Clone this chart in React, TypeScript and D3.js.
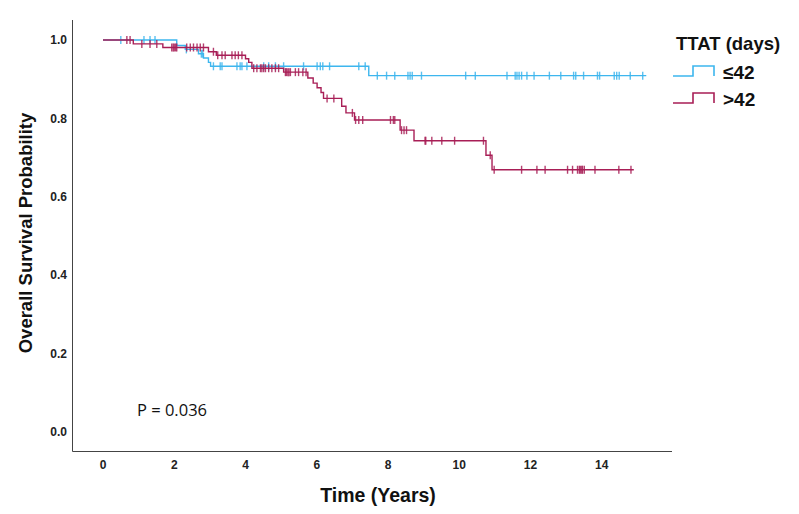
import * as d3 from 'd3';

// TTAT groups
const groupLabels = ['≤42', '>42'];
const groupColors = ['#3DB6EE', '#A81E56'];

// ≤42 days: step times (years) and survival after each step
const shortStepTimes = [0, 2.07, 2.31, 2.68, 2.82, 2.96, 3.02, 7.46];
const shortStepSurvival = [1, 0.986, 0.976, 0.965, 0.954, 0.943, 0.933, 0.909];
const shortEndTime = 15.25;
const shortCensorTimes = [
  0.5, 1.15, 1.32, 1.46, 2.34, 2.76, 2.8, 3.1, 3.29, 3.34, 3.76, 3.85, 3.9, 4.04, 4.51, 4.65,
  4.84, 5.07, 5.63, 6.01, 6.1, 6.17, 6.36, 7.18, 7.36, 7.7, 7.96, 8.19, 8.56, 8.62, 8.68, 8.94,
  10.18, 10.45, 11.34, 11.57, 11.62, 11.68, 11.75, 11.9, 12.1, 12.53, 12.85, 13.21, 13.27,
  13.49, 13.88, 13.94, 14.35, 14.42, 14.49, 14.8, 15.15
];

// >42 days
const longStepTimes = [
  0, 0.85, 1.68, 2.96, 3.18, 4.0, 4.09, 4.18, 5.07, 5.75, 5.9, 6.01, 6.12, 6.19, 6.7, 6.82,
  7.06, 8.34, 8.73, 10.75, 10.92
];
const longStepSurvival = [
  1, 0.99, 0.981, 0.97, 0.961, 0.952, 0.943, 0.928, 0.918, 0.903, 0.89, 0.878, 0.866, 0.851,
  0.831, 0.814, 0.796, 0.77, 0.743, 0.706, 0.669
];
const longEndTime = 14.9;
const longCensorTimes = [
  0.67, 0.76, 1.09, 1.32, 1.51, 1.93, 1.97, 2.0, 2.04, 2.07, 2.35, 2.45, 2.54, 2.64, 2.73,
  2.82, 3.1, 3.22, 3.34, 3.43, 3.62, 3.71, 3.8, 3.9, 4.23, 4.32, 4.42, 4.46, 4.51, 4.56, 4.65,
  4.74, 4.84, 4.93, 5.12, 5.15, 5.19, 5.22, 5.26, 5.4, 5.49, 5.61, 5.7, 6.29, 6.48, 7.0, 7.09,
  7.18, 7.29, 8.07, 8.15, 8.19, 8.38, 8.45, 8.52, 9.04, 9.06, 9.23, 9.51, 9.87, 10.68, 10.87,
  10.98, 11.75, 12.18, 12.41, 13.04, 13.18, 13.32, 13.37, 13.4, 13.44, 13.46, 13.51, 13.81,
  14.48, 14.82
];

const xTicks = [0, 2, 4, 6, 8, 10, 12, 14];
const yTicks = [0, 0.2, 0.4, 0.6, 0.8, 1.0];
const pValueText = 'P = 0.036';

const W = 799;
const H = 514;
const boldFont = '"Liberation Sans", Arial, Helvetica, sans-serif';

export default function App() {
  const x = d3.scaleLinear().domain([0, 16]).range([103, 673]);
  const y = d3.scaleLinear().domain([0, 1]).range([432, 40]);
  const axisLeft = 72.5;
  const axisBottom = 451.5;

  const groups = [
    { times: shortStepTimes, surv: shortStepSurvival, end: shortEndTime, censor: shortCensorTimes },
    { times: longStepTimes, surv: longStepSurvival, end: longEndTime, censor: longCensorTimes }
  ];

  const line = d3
    .line<[number, number]>()
    .x((d) => x(d[0]))
    .y((d) => y(d[1]))
    .curve(d3.curveStepAfter);

  const survivalAt = (times: number[], surv: number[], t: number) =>
    surv[Math.max(0, d3.bisectRight(times, t) - 1)];

  return (
    <svg width={W} height={H} style={{ position: 'absolute', left: 0, top: 0, background: '#fff' }}>
      {/* axes */}
      <line x1={axisLeft} x2={axisLeft} y1={20} y2={axisBottom} stroke="#444" strokeWidth={1} />
      <line x1={axisLeft} x2={672} y1={axisBottom} y2={axisBottom} stroke="#444" strokeWidth={1} />

      {yTicks.map((t) => (
        <text
          key={t}
          x={67}
          y={y(t)}
          dy="0.35em"
          textAnchor="end"
          fontFamily={boldFont}
          fontWeight="bold"
          fontSize={12}
          fill="#222"
        >
          {t.toFixed(1)}
        </text>
      ))}
      {xTicks.map((t) => (
        <text
          key={t}
          x={x(t)}
          y={465}
          dy="0.35em"
          textAnchor="middle"
          fontFamily={boldFont}
          fontWeight="bold"
          fontSize={12}
          fill="#222"
        >
          {t}
        </text>
      ))}

      <text
        transform={`translate(26,${233}) rotate(-90)`}
        textAnchor="middle"
        dy="0.35em"
        fontFamily={boldFont}
        fontWeight="bold"
        fontSize={18.5}
        fill="#111"
      >
        Overall Survival Probability
      </text>
      <text
        x={378}
        y={495}
        dy="0.35em"
        textAnchor="middle"
        fontFamily={boldFont}
        fontWeight="bold"
        fontSize={19.5}
        fill="#111"
      >
        Time (Years)
      </text>

      {/* curves */}
      {groups.map((g, gi) => {
        const pts: [number, number][] = g.times.map((t, i) => [t, g.surv[i]]);
        pts.push([g.end, g.surv[g.surv.length - 1]]);
        return (
          <g key={gi}>
            <path d={line(pts) ?? ''} fill="none" stroke={groupColors[gi]} strokeWidth={1.4} />
            {g.censor.map((t, ci) => {
              const cy = y(survivalAt(g.times, g.surv, t));
              return (
                <line
                  key={ci}
                  x1={x(t)}
                  x2={x(t)}
                  y1={cy - 4}
                  y2={cy + 4}
                  stroke={groupColors[gi]}
                  strokeWidth={1.4}
                  opacity={0.85}
                />
              );
            })}
          </g>
        );
      })}

      <text x={137} y={410} dy="0.35em" fontFamily='"Open Sans", sans-serif' fontSize={16.5} fill="#111">
        {pValueText}
      </text>

      {/* legend */}
      <text x={676} y={44} dy="0.35em" fontFamily={boldFont} fontWeight="bold" fontSize={18.5} fill="#111">
        TTAT (days)
      </text>
      {groupLabels.map((lab, i) => {
        const base = 76 + i * 27;
        return (
          <g key={lab}>
            <path
              d={`M673,${base}H693V${base - 10}H714V${base}`}
              fill="none"
              stroke={groupColors[i]}
              strokeWidth={1.6}
            />
            <text
              x={723}
              y={base - 4}
              dy="0.35em"
              fontFamily={boldFont}
              fontWeight="bold"
              fontSize={19}
              fill="#111"
            >
              {lab}
            </text>
          </g>
        );
      })}
    </svg>
  );
}
